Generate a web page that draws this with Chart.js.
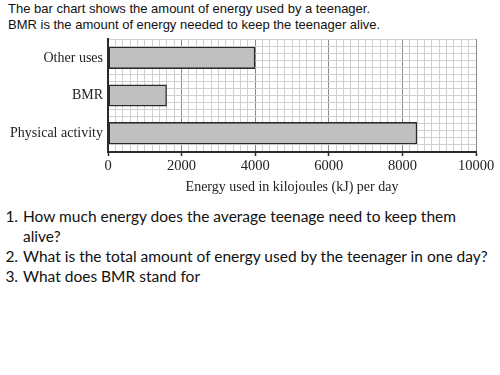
<!DOCTYPE html>
<html>
<head>
<meta charset="utf-8">
<script src="https://cdn.jsdelivr.net/npm/chart.js@4"></script>
<style>
  html, body { margin: 0; padding: 0; background: #fff; }
  body { width: 500px; height: 375px; position: relative; overflow: hidden; }
  #intro { position: absolute; left: 8px; top: 1px; font: 13px "Liberation Sans", Arial, sans-serif; line-height: 16px; color: #111; }
  #wrap { position: absolute; left: 0; top: 0; width: 500px; height: 200px; }
  #questions { position: absolute; left: 0; top: 206px; margin: 0; padding-left: 22px; font: 15.5px Lato, "Open Sans", sans-serif; line-height: 20px; color: #111; width: 470px; }
  #questions li { padding-left: 1px; }
</style>
</head>
<body>
<div id="intro">The bar chart shows the amount of energy used by a teenager.<br>BMR is the amount of energy needed to keep the teenager alive.</div>
<div id="wrap"><canvas id="energyChart"></canvas></div>
<ol id="questions">
  <li>How much energy does the average teenage need to keep them alive?</li>
  <li>What is the total amount of energy used by the teenager in one day?</li>
  <li>What does BMR stand for</li>
</ol>
<script>
// dados
const categories = ["Other uses", "BMR", "Physical activity"];
const energyValues = [4000, 1600, 8400];
const axisMax = 10000;
const majorStep = 2000;
const minorStep = 200;

const serif = "'Liberation Serif', 'Times New Roman', serif";

const ctx = document.getElementById("energyChart");
new Chart(ctx, {
  type: "bar",
  data: {
    labels: categories,
    datasets: [{
      data: energyValues,
      backgroundColor: "#c0c0c0",
      borderColor: "#2a2a2a",
      borderWidth: 1.6,
      borderSkipped: false,
      barPercentage: 0.59,
      categoryPercentage: 1,
    }],
  },
  options: {
    indexAxis: "y",
    responsive: true,
    maintainAspectRatio: false,
    animation: false,
    layout: { padding: { left: 0, right: 24, top: 39, bottom: 0 } },
    plugins: { legend: { display: false }, tooltip: { enabled: false } },
    scales: {
      x: {
        type: "linear",
        min: 0,
        max: axisMax,
        afterFit: (s) => { s.height = 48; },
        ticks: {
          stepSize: minorStep,
          autoSkip: false,
          maxRotation: 0,
          padding: 1,
          color: "#222",
          font: { family: serif, size: 14.5 },
          callback: (v) => (v % majorStep === 0 ? String(v) : ""),
        },
        grid: {
          color: (c) => (c.tick && c.tick.value % majorStep === 0 ? "#8a8a8a" : "#cfcfcf"),
          tickColor: (c) => (c.tick && c.tick.value % majorStep === 0 ? "#2a2a2a" : "rgba(0,0,0,0)"),
          tickLength: 4,
          tickWidth: 1.5,
        },
        border: { color: "#2a2a2a", width: 2 },
        title: {
          display: true,
          text: "Energy used in kilojoules (kJ) per day",
          color: "#222",
          padding: { top: 3 },
          font: { family: serif, size: 14 },
        },
      },
      y: {
        type: "category",
        afterFit: (s) => { s.width = 108; },
        grid: { display: false, drawTicks: false },
        border: { color: "#2a2a2a", width: 2 },
        ticks: {
          padding: 5,
          color: "#222",
          font: { family: serif, size: 14 },
        },
      },
      yMinor: {
        type: "linear",
        position: "right",
        min: 0,
        max: 15,
        afterFit: (s) => { s.width = 0; },
        ticks: { display: false, stepSize: 1 },
        grid: { color: "#cfcfcf", drawTicks: false },
        border: { display: false },
      },
    },
  },
});
</script>
</body>
</html>
